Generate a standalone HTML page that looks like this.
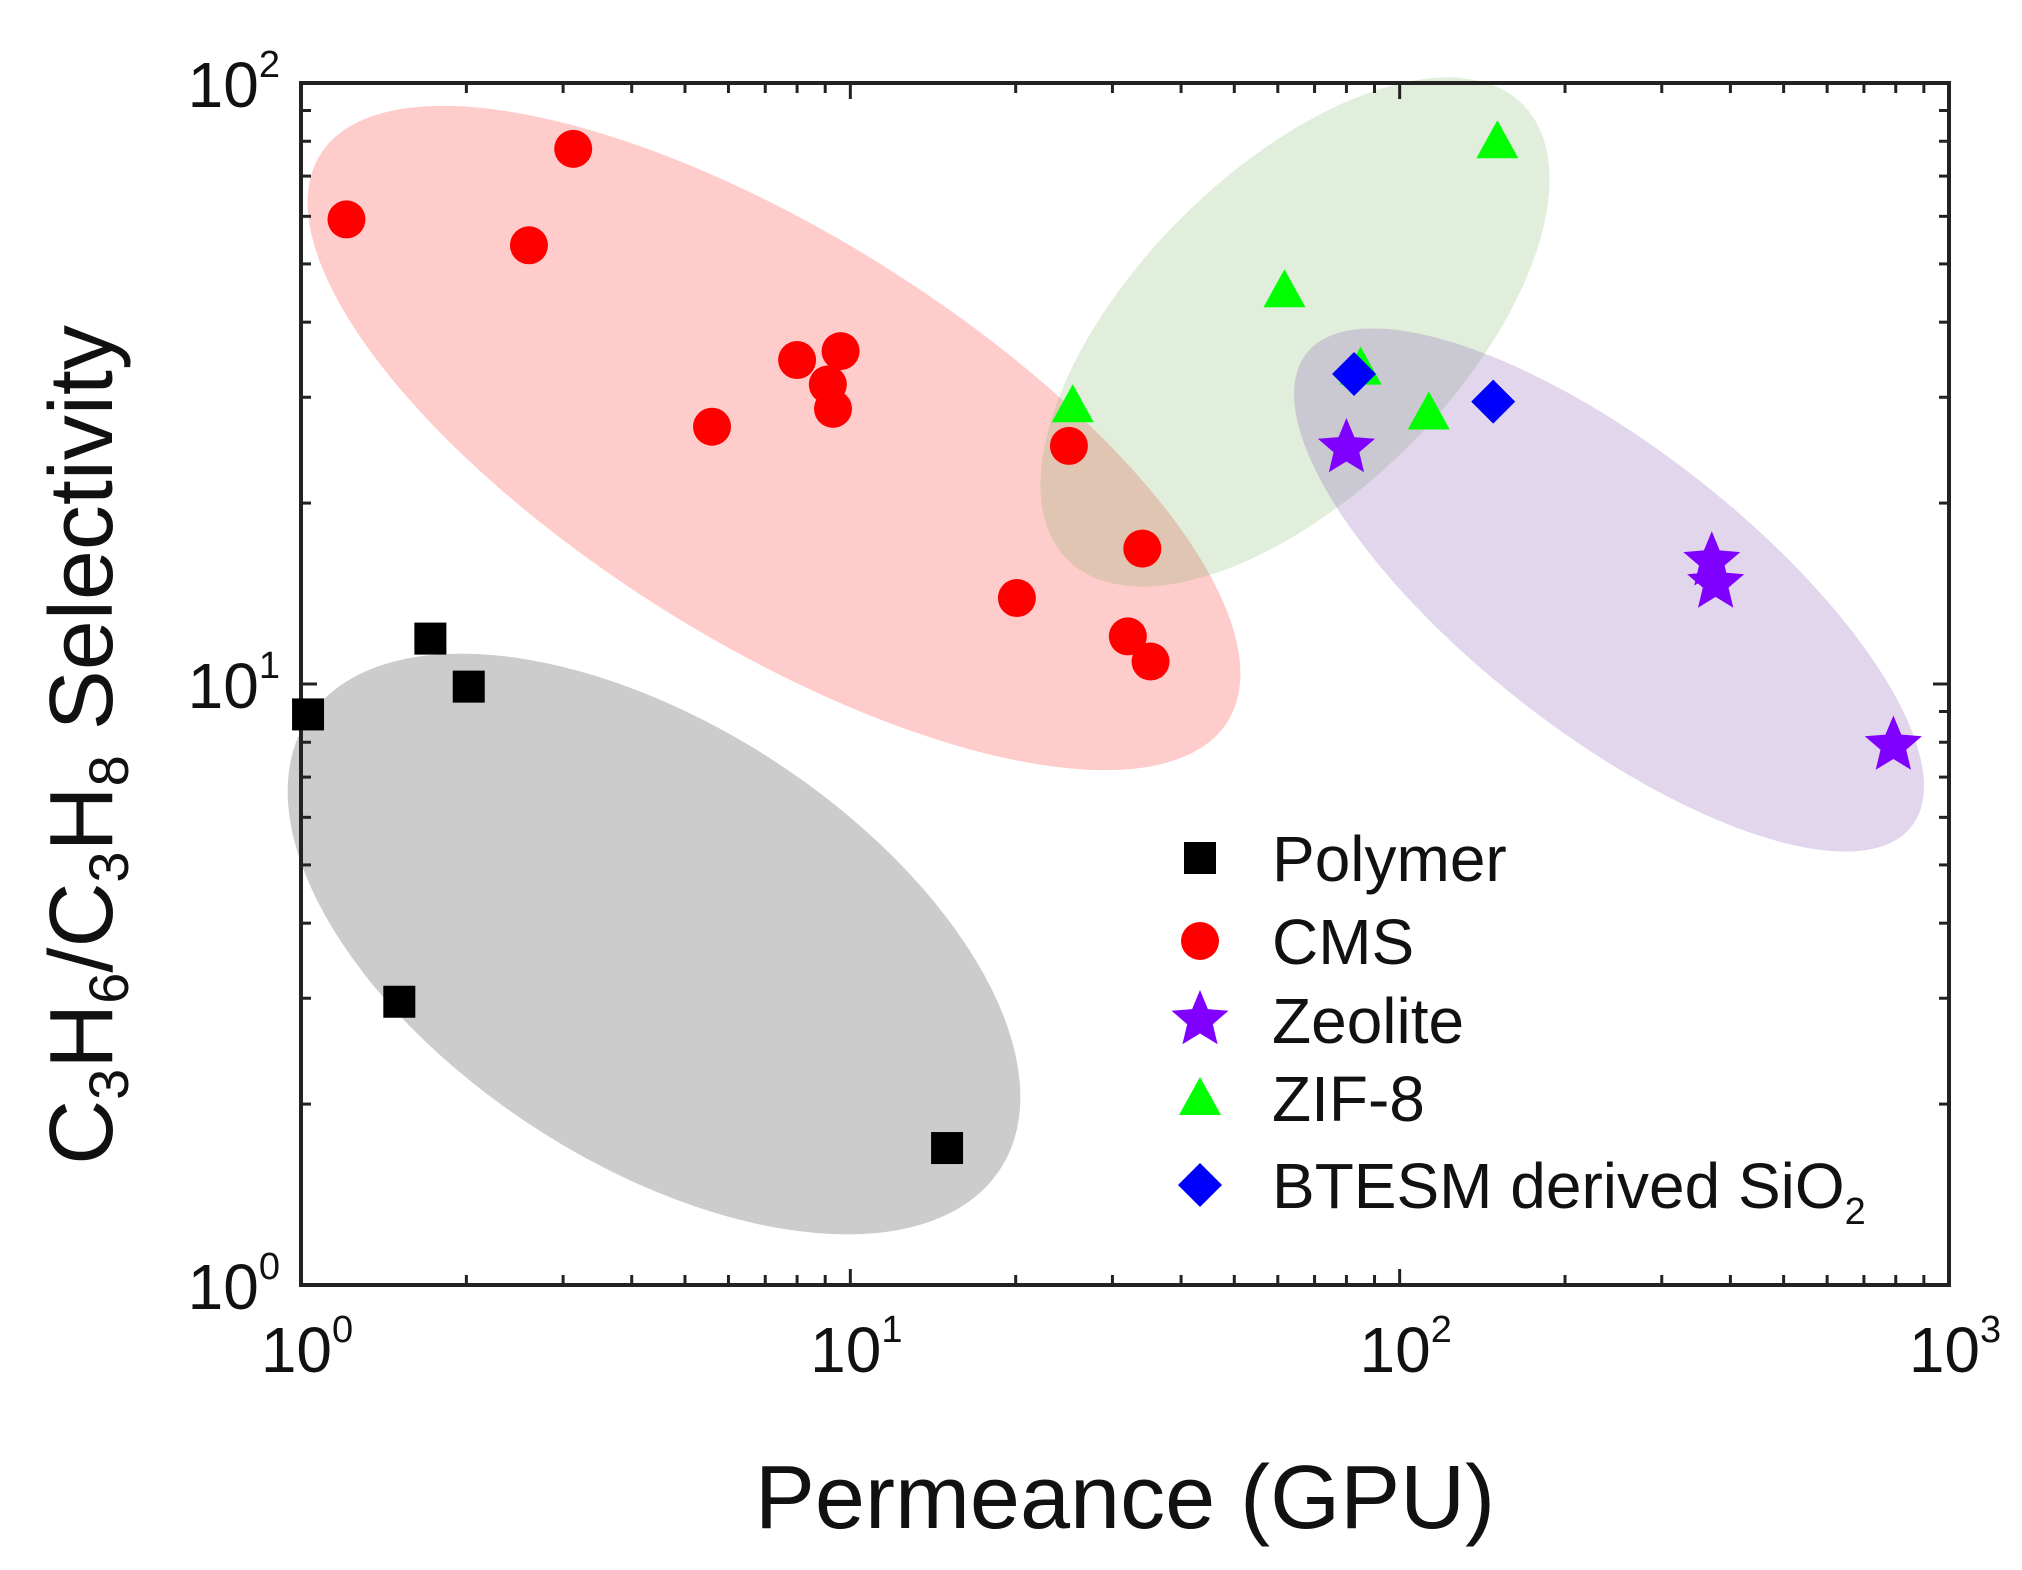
<!DOCTYPE html>
<html><head><meta charset="utf-8"><style>
html,body{margin:0;padding:0;background:#fff;}
svg{display:block;font-family:"Liberation Sans",Arial,sans-serif;}
</style></head><body>
<svg id="chart" width="2022" height="1570" viewBox="0 0 2022 1570">
<g id="ellipses">
  <ellipse cx="774" cy="438" rx="535" ry="204" transform="rotate(32 774 438)" fill="#ff0000" fill-opacity="0.2"/>
  <ellipse cx="654" cy="944" rx="413" ry="219" transform="rotate(33 654 944)" fill="#000" fill-opacity="0.2"/>
  <ellipse cx="1295" cy="332" rx="322" ry="161" transform="rotate(-45 1295 332)" fill="#6aa84f" fill-opacity="0.2"/>
  <ellipse cx="1609" cy="590" rx="384" ry="142" transform="rotate(38 1609 590)" fill="#7030a0" fill-opacity="0.2"/>
</g>
<g id="axes"></g>
<g id="marks"></g>
<g id="legend"></g>
<text x="1125" y="1528" font-size="90" text-anchor="middle" fill="#111">Permeance (GPU)</text>
<text transform="translate(112 745) rotate(-90)" font-size="90" text-anchor="middle" fill="#111">C<tspan font-size="56" dy="16">3</tspan><tspan dy="-16">H</tspan><tspan font-size="56" dy="16">6</tspan><tspan dy="-16">/C</tspan><tspan font-size="56" dy="16">3</tspan><tspan dy="-16">H</tspan><tspan font-size="56" dy="16">8</tspan><tspan dy="-16"> Selectivity</tspan></text>
</svg>
<script>
const polymerX=[1.03,1.72,2.02,1.51,15.0];
const polymerY=[8.9,11.9,9.9,2.96,1.69];
const cmsX=[1.21,3.13,2.6,8.0,9.6,9.1,9.3,5.6,25,34,20.1,32,35.2];
const cmsY=[59.3,77.7,53.7,34.6,35.8,31.5,28.7,26.8,24.9,16.8,13.9,12,10.9];
const zeoliteX=[80,370,376,792];
const zeoliteY=[24.7,16,14.7,7.9];
const zifX=[25.4,61.7,150.6,84.9,113];
const zifY=[29.1,45.2,80,33.6,28.3];
const btesmX=[82.6,148];
const btesmY=[32.8,29.5];
const xTickLabels=["0","1","2","3"];
const yTickLabels=["0","1","2"];
const legendLabels=["Polymer","CMS","Zeolite","ZIF-8","BTESM derived SiO"];

const L=301,R=1949,T=83,B=1285;
const xMin=0,xMax=3,yMin=0,yMax=2;
const sx=v=>L+(Math.log10(v)-xMin)/(xMax-xMin)*(R-L);
const sy=v=>B-(Math.log10(v)-yMin)/(yMax-yMin)*(B-T);
const NS="http://www.w3.org/2000/svg";
function mk(tag,parent,attrs){const e=document.createElementNS(NS,tag);for(const k in attrs)e.setAttribute(k,attrs[k]);parent.appendChild(e);return e;}

const ax=document.getElementById('axes');
const frame=mk('rect',ax,{x:L,y:T,width:R-L,height:B-T,fill:'none',stroke:'#222','stroke-width':4});


for(let d=0;d<3;d++){for(let m=1;m<=9;m++){const v=Math.pow(10,d)*m;const x=sx(v);const len=m===1?16:10;
 const t1=mk('line',ax,{x1:x,y1:B,x2:x,y2:B-len,stroke:'#222','stroke-width':3});
 
 
 const t2=mk('line',ax,{x1:x,y1:T,x2:x,y2:T+len,stroke:'#222','stroke-width':3});
 
 }}
for(let d=0;d<2;d++){for(let m=1;m<=9;m++){const v=Math.pow(10,d)*m;const y=sy(v);const len=m===1?16:10;
 const t1=mk('line',ax,{x1:L,y1:y,x2:L+len,y2:y,stroke:'#222','stroke-width':3});
 
 
 const t2=mk('line',ax,{x1:R,y1:y,x2:R-len,y2:y,stroke:'#222','stroke-width':3});
 
 }}
xTickLabels.forEach(s=>{const x=sx(Math.pow(10,+s));
 const t=mk('text',ax,{x:x+6,y:1372,'font-size':64,'text-anchor':'middle',fill:'#111'});
 
 
 t.innerHTML='10<tspan font-size="38" dy="-30">'+s+'</tspan>';});
yTickLabels.forEach(s=>{const y=sy(Math.pow(10,+s));
 const t=mk('text',ax,{x:280,y:y+24,'font-size':64,'text-anchor':'end',fill:'#111'});
 
 
 t.innerHTML='10<tspan font-size="38" dy="-30">'+s+'</tspan>';});

function starPts(cx,cy,r){let p=[];for(let i=0;i<10;i++){const a=-Math.PI/2+i*Math.PI/5;const rr=i%2?r*0.45:r;p.push((cx+rr*Math.cos(a)).toFixed(1)+','+(cy+rr*Math.sin(a)).toFixed(1));}return p.join(' ');}
function marker(g,type,x,y){
 if(type==='square')return mk('rect',g,{x:x-16,y:y-16,width:32,height:32,fill:'#000'});
 if(type==='circle')return mk('circle',g,{cx:x,cy:y,r:19,fill:'#ff0000'});
 if(type==='star')return mk('polygon',g,{points:starPts(x,y,30),fill:'#8000ff'});
 if(type==='tri')return mk('polygon',g,{points:`${x},${y-21} ${x+21},${y+17} ${x-21},${y+17}`,fill:'#00ff00'});
 return mk('polygon',g,{points:`${x},${y-22} ${x+22},${y} ${x},${y+22} ${x-22},${y}`,fill:'#0000ff'});
}
const mg=document.getElementById('marks');
const series=[[polymerX,polymerY,'square','polymer-point'],[cmsX,cmsY,'circle','cms-point'],[zifX,zifY,'tri','zif8-point'],[btesmX,btesmY,'diamond','btesm-point'],[zeoliteX,zeoliteY,'star','zeolite-point']];
series.forEach(s=>{s[0].forEach((xv,i)=>{const e=marker(mg,s[2],sx(xv),sy(s[1][i]));
 
 });});

const lg=document.getElementById('legend');
const ltypes=['square','circle','star','tri','diamond'];
const lys=[858,941,1020,1098,1185];
legendLabels.forEach((lab,i)=>{
 const m=marker(lg,ltypes[i],1200,lys[i]);
 
 
 const t=mk('text',lg,{x:1272,y:lys[i]+23,'font-size':64,fill:'#111'});
 
 
 t.textContent=lab;
 if(i===4){const s=mk('tspan',t,{'font-size':38,dy:16});s.textContent='2';}
});
</script>
</body></html>
